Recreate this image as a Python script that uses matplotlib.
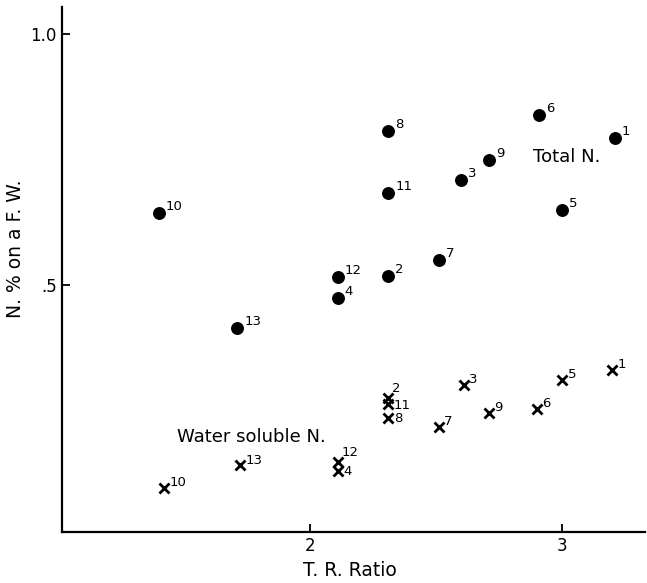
import matplotlib.pyplot as plt

plt.rcParams['font.family'] = ['DejaVu Sans']

# Total N. (filled circles)
total_ids = [1, 2, 3, 4, 5, 6, 7, 8, 9, 10, 11, 12, 13]
total_x = [3.21, 2.31, 2.60, 2.11, 3.00, 2.91, 2.51, 2.31, 2.71, 1.40, 2.31, 2.11, 1.71]
total_y = [0.794, 0.518, 0.709, 0.475, 0.649, 0.839, 0.551, 0.807, 0.750, 0.644, 0.684, 0.517, 0.414]

# Water soluble N. (crosses)
water_ids = [1, 2, 3, 4, 5, 6, 7, 8, 9, 10, 11, 12, 13]
water_x = [3.20, 2.31, 2.61, 2.11, 3.00, 2.90, 2.51, 2.31, 2.71, 1.42, 2.31, 2.11, 1.72]
water_y = [0.332, 0.276, 0.302, 0.130, 0.312, 0.254, 0.218, 0.236, 0.246, 0.097, 0.264, 0.148, 0.141]

fig = plt.figure(figsize=(6.47, 5.83), dpi=100)
ax = fig.add_axes([0.096, 0.088, 0.901, 0.900])

ax.plot(total_x, total_y, 'o', color='black', markersize=8.3, linestyle='none')
ax.plot(water_x, water_y, 'x', color='black', markersize=7, markeredgewidth=2.0, linestyle='none')

# etiquetas dos pontos
for i, x, y in zip(total_ids, total_x, total_y):
    ax.annotate(str(i), xy=(x, y), xytext=(5, 0), textcoords='offset points',
                fontsize=9.5, ha='left', va='bottom')

desloc_agua = {2: (3, 2), 11: (4, -6), 8: (4, -5), 12: (3, 2), 4: (4, -5)}
for i, x, y in zip(water_ids, water_x, water_y):
    dx, dy = desloc_agua.get(i, (4, -1))
    ax.annotate(str(i), xy=(x, y), xytext=(dx, dy), textcoords='offset points',
                fontsize=9.5, ha='left', va='bottom')

ax.text(2.885, 0.755, 'Total N.', fontsize=13, ha='left', va='center')
ax.text(1.47, 0.197, 'Water soluble N.', fontsize=13, ha='left', va='center')

ax.set_xlim(1.015, 3.33)
ax.set_ylim(0.009, 1.054)
ax.set_xticks([2, 3])
ax.set_xticklabels(['2', '3'])
ax.set_yticks([0.5, 1.0])
ax.set_yticklabels(['.5', '1.0'])
ax.tick_params(direction='in', length=6, width=1.3, labelsize=12, pad=4)
for lado in ['top', 'right']:
    ax.spines[lado].set_visible(False)
for lado in ['left', 'bottom']:
    ax.spines[lado].set_linewidth(1.6)

ax.set_xlabel('T. R. Ratio', fontsize=13.5)
ax.set_ylabel('N. % on a F. W.', fontsize=13.5)
ax.xaxis.set_label_coords(0.494, -0.055)
ax.yaxis.set_label_coords(-0.064, 0.54)

plt.savefig('out.png', dpi=100)
